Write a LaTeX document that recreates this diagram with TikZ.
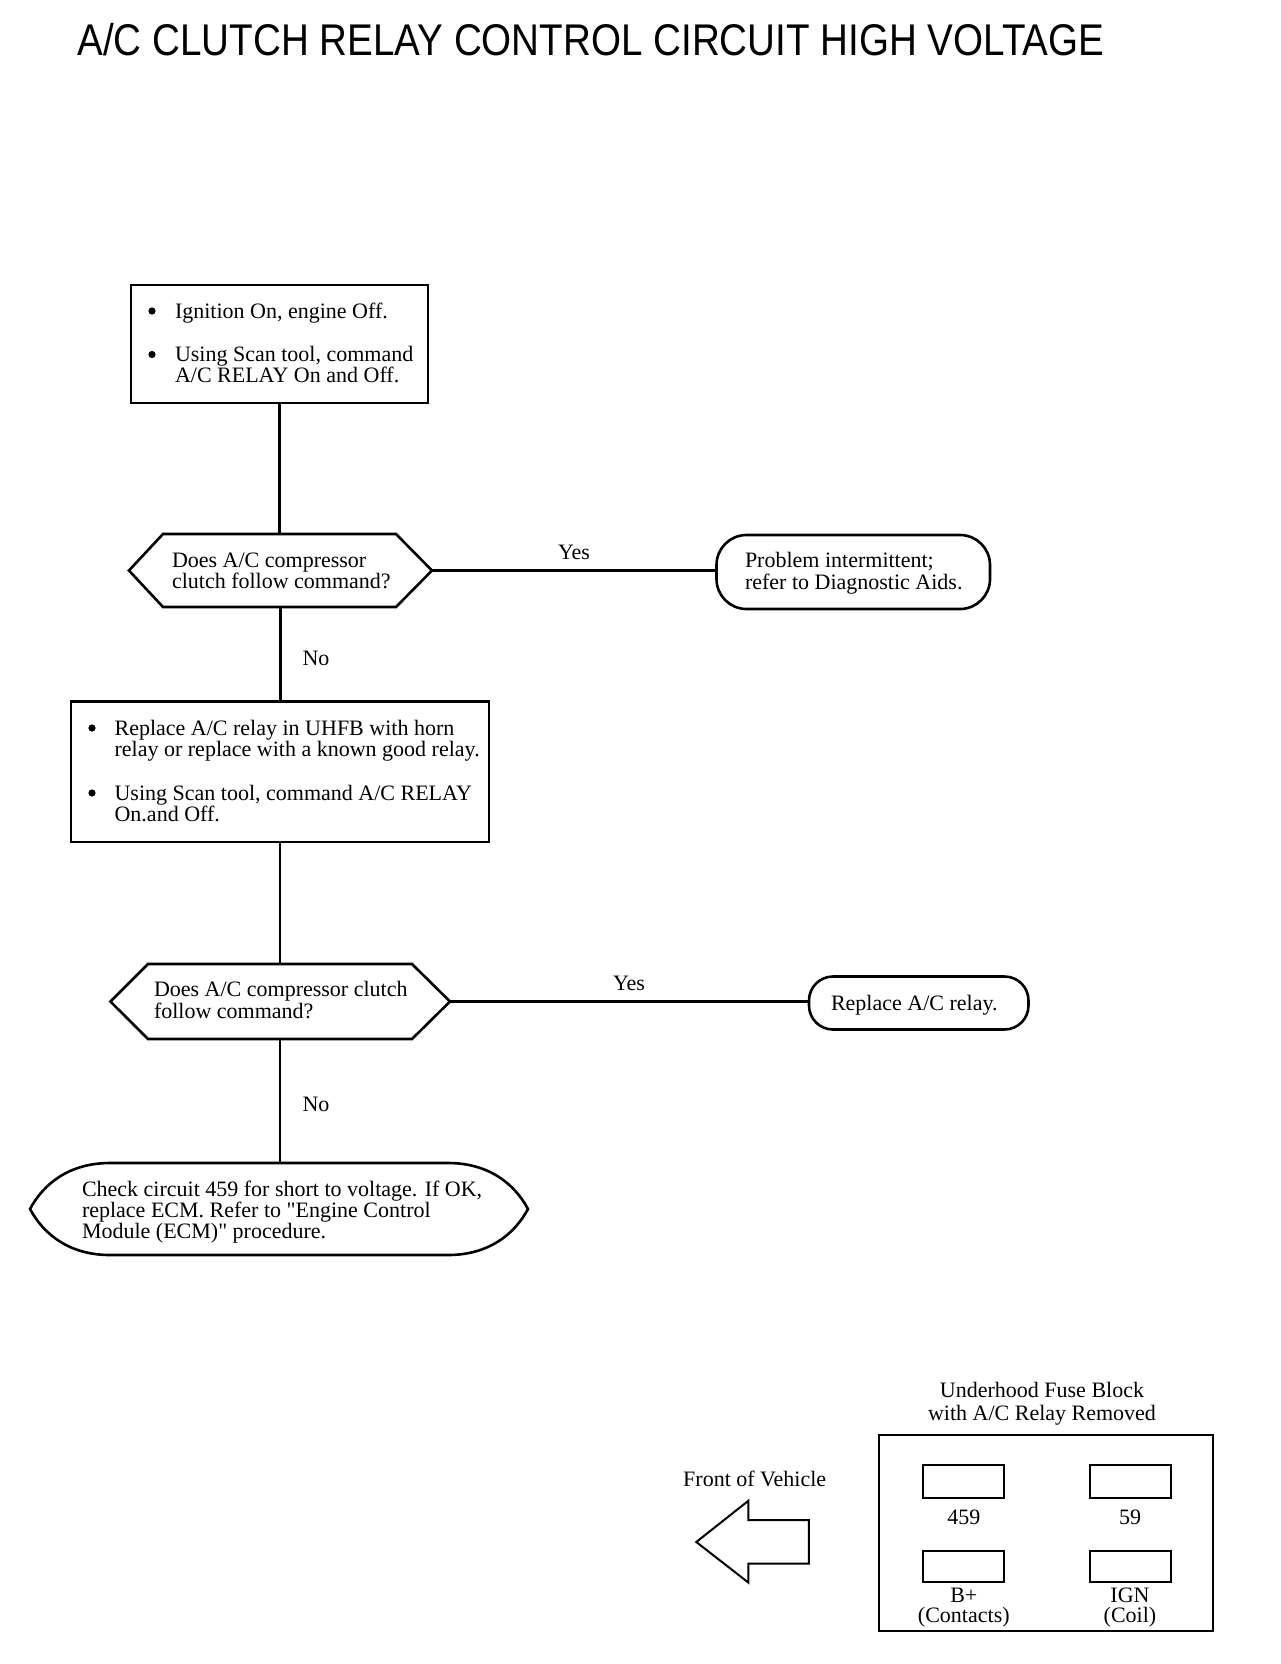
\documentclass[tikz,border=0pt]{standalone}
\usepackage{fontspec}
\setmainfont{Liberation Serif}
\newfontfamily\titlefont{Liberation Sans}
\usetikzlibrary{calc}
\begin{document}
\begin{tikzpicture}[x=0.5pt,y=-0.5pt,
  every node/.style={inner sep=0pt, outer sep=0pt},
  txt/.style={font=\fontsize{11}{13}\selectfont},
  ln/.style={txt, anchor=base west},
  dot/.style={circle, fill=black, minimum size=3.6pt},
  shapeline/.style={line width=1.3pt, line join=miter},
  boxnode/.style={draw, line width=1.3pt},
  termnode/.style={draw, line width=1.3pt},
  conn/.style={line width=1.1pt},
  thinbox/.style={draw, line width=1pt}]
\fill[white] (0,0) rectangle (1280,1664);
\useasboundingbox (0,0) rectangle (1280,1664);

% title
\node[anchor=base west, font=\titlefont\fontsize{22.2}{26}\selectfont] (title) at (77.5,55.2)
  {\scalebox{0.869}[1]{A/C CLUTCH RELAY CONTROL CIRCUIT HIGH VOLTAGE}};

% box 1
\node[boxnode, minimum width=148.5pt, minimum height=59pt] (b1) at (279.5,344) {};
\node[dot] (b1d1) at (152,311) {};
\node[ln] (b1a) at (175,318) {Ignition On, engine Off.};
\node[dot] (b1d2) at (152,354.5) {};
\node[ln] (b1b) at (175,361.5) {Using Scan tool, command};
\node[ln] (b1c) at (175,382.7) {A/C RELAY On and Off.};

% decision 1
\node[minimum width=151.5pt, minimum height=36.5pt] (h1) at (280.5,570.5) {};
\draw[shapeline] (h1.west) -- ($(h1.north west)+(34,0)$) -- ($(h1.north east)+(-36,0)$)
  -- (h1.east) -- ($(h1.south east)+(-36,0)$) -- ($(h1.south west)+(34,0)$) -- cycle;
\node[ln] (h1a) at (172,567) {Does A/C compressor};
\node[ln] (h1b) at (172,588) {clutch follow command?};

% terminal 1
\node[termnode, rounded corners=15pt, minimum width=136.75pt, minimum height=37pt] (t1) at (853.25,572) {};
\node[ln] (t1a) at (745,567) {Problem intermittent;};
\node[ln] (t1b) at (745,589) {refer to Diagnostic Aids.};

\draw[conn] (b1.south) -- (b1.south |- h1.north);
\draw[conn] (h1.east) -- (h1.east -| t1.west);
\node[txt] (yes1) at (574,552) {Yes};
\node[txt] (no1) at (316,658) {No};

% box 2
\node[boxnode, minimum width=209pt, minimum height=70.2pt] (b2) at (280,771.9) {};
\node[dot] (b2d1) at (92,728) {};
\node[ln] (b2a) at (114.6,735) {Replace A/C relay in UHFB with horn};
\node[ln] (b2b) at (114.6,756) {relay or replace with a known good relay.};
\node[dot] (b2d2) at (92,793) {};
\node[ln] (b2c) at (114.6,800) {Using Scan tool, command A/C RELAY};
\node[ln] (b2e) at (114.6,821) {On.and Off.};
\draw[conn] (h1.south) -- (h1.south |- b2.north);

% decision 2
\node[minimum width=169.8pt, minimum height=37.5pt] (h2) at (280.2,1001.5) {};
\draw[shapeline] (h2.west) -- ($(h2.north west)+(37.6,0)$) -- ($(h2.north east)+(-38,0)$)
  -- (h2.east) -- ($(h2.south east)+(-38,0)$) -- ($(h2.south west)+(37.6,0)$) -- cycle;
\node[ln] (h2a) at (154,996) {Does A/C compressor clutch};
\node[ln] (h2b) at (154,1018) {follow command?};
\draw[conn] (b2.south) -- (b2.south |- h2.north);

% terminal 2
\node[termnode, rounded corners=12pt, minimum width=109.75pt, minimum height=26.5pt] (t2) at (918.75,1003) {};
\node[ln] (t2a) at (831,1010) {Replace A/C relay.};
\draw[conn] (h2.east) -- (h2.east -| t2.west);
\node[txt] (yes2) at (629,983) {Yes};
\node[txt] (no2) at (316,1104) {No};

% final
\node[minimum width=249pt, minimum height=46pt] (fin) at (279,1209) {};
\draw[shapeline] (fin.west) .. controls ($(fin.west)+(14,-26)$) and ($(fin.north west)+(40,0)$) .. ($(fin.north west)+(80,0)$)
  -- ($(fin.north east)+(-80,0)$) .. controls ($(fin.north east)+(-40,0)$) and ($(fin.east)+(-14,-26)$) .. (fin.east)
  .. controls ($(fin.east)+(-14,26)$) and ($(fin.south east)+(-40,0)$) .. ($(fin.south east)+(-80,0)$)
  -- ($(fin.south west)+(80,0)$) .. controls ($(fin.south west)+(40,0)$) and ($(fin.west)+(14,26)$) .. (fin.west) -- cycle;
\node[ln] (fa) at (82,1196) {Check circuit 459 for short to voltage. If OK,};
\node[ln] (fb1) at (82,1217) {replace ECM. Refer to \textquotedbl Engine Control};
\node[ln] (fc) at (82,1238) {Module (ECM)\textquotedbl{} procedure.};
\draw[conn] (h2.south) -- (h2.south |- fin.north);

% fuse block
\node[txt, align=center, font=\fontsize{11}{11.6}\selectfont] (ufb) at (1042,1404) {Underhood Fuse Block\\with A/C Relay Removed};
\node[thinbox, minimum width=167pt, minimum height=98pt] (fbox) at (1046,1533) {};
\node[thinbox, minimum width=40.3pt, minimum height=16.3pt] (s1) at (963.7,1481.3) {};
\node[thinbox, minimum width=40.3pt, minimum height=16.3pt] (s2) at (1130.35,1481.3) {};
\node[thinbox, minimum width=40.3pt, minimum height=15.5pt] (s3) at (963.7,1566) {};
\node[thinbox, minimum width=40.3pt, minimum height=15.5pt] (s4) at (1130.35,1566) {};
\node[txt] (l459) at (963.8,1517) {459};
\node[txt] (l59) at (1130,1517) {59};
\node[txt, align=center, font=\fontsize{11}{9.8}\selectfont] (lbp) at (963.8,1607.5) {B+\\(Contacts)};
\node[txt, align=center, font=\fontsize{11}{9.8}\selectfont] (lign) at (1130,1607.5) {IGN\\(Coil)};

% front of vehicle
\node[txt] (front) at (754.7,1478.5) {Front of Vehicle};
\draw[line width=1pt, line join=miter] (696.3,1542) -- (748.3,1500.8) -- (748.3,1520) -- (808.8,1520)
  -- (808.8,1563.5) -- (748.3,1563.5) -- (748.3,1582.5) -- cycle;
\end{tikzpicture}
\end{document}
